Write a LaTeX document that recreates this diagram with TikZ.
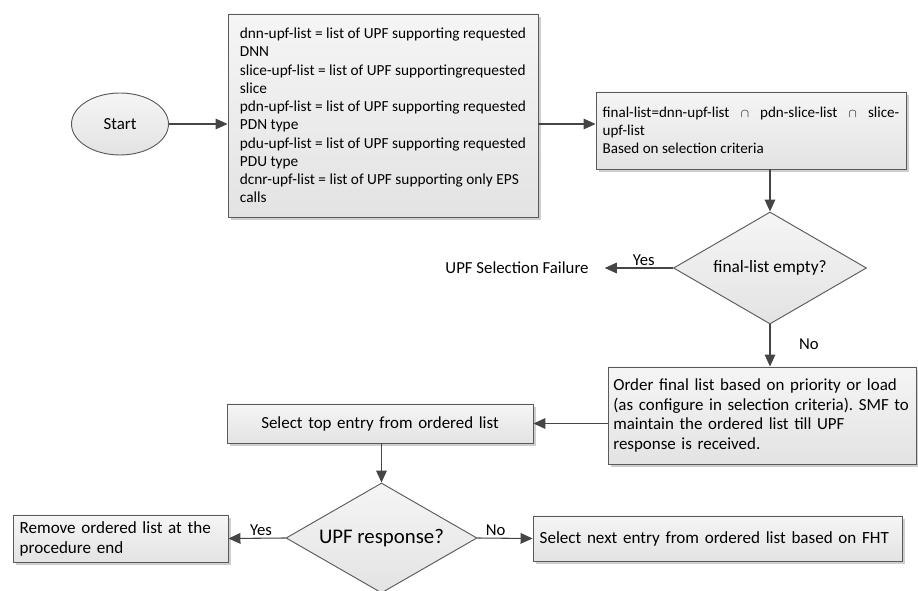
\documentclass[tikz,border=0pt]{standalone}
\usepackage{fontspec}
\setmainfont{Carlito}
\frenchspacing
\usetikzlibrary{positioning,calc,arrows.meta,shapes.geometric,shadows}
\definecolor{edgegray}{HTML}{5A5A5A}
\definecolor{linkgray}{HTML}{454545}
\definecolor{lightfill}{HTML}{F5F5F5}
\definecolor{darkfill}{HTML}{E3E3E3}
\tikzset{
  txt/.style={font=\fontsize{12.7}{14.8}\selectfont},
  smalltxt/.style={font=\fontsize{11.5}{13.7}\selectfont},
  shade/.style={top color=lightfill,bottom color=darkfill},
  shadow/.style={drop shadow={shadow xshift=2.2pt,shadow yshift=-2.2pt,fill=gray!70,opacity=0.55}},
  procbox/.style={rectangle,draw=edgegray,line width=0.7pt,shade,shadow,txt,
                  inner xsep=5pt,inner ysep=0pt,align=left},
  % start / end terminals are ellipses
  terminal/.style={ellipse,draw=edgegray,line width=0.7pt,shade,txt,inner sep=0,
                   minimum width=72.75pt,minimum height=46.5pt},
  decision/.style={diamond,draw=edgegray,line width=0.7pt,shade,inner sep=0,aspect=1.7,
                   font=\fontsize{13}{15}\selectfont},
  lab/.style={font=\fontsize{12.5}{14}\selectfont,inner sep=1.5pt},
  arrow/.style={-{Triangle[length=9pt,width=8pt]},draw=linkgray,line width=0.8pt},
}
\begin{document}
\begin{tikzpicture}[x=0.75pt,y=-0.75pt]
  \useasboundingbox (0,0) rectangle (918,591);
  % upper row: lists built from the request
  \node[terminal] (start) at (120,124) {Start};
  \node[procbox,smalltxt,inner xsep=0pt,minimum width=232.5pt,minimum height=152.25pt] (upflists) at (383,115.5)
    {dnn-upf-list = list of UPF supporting requested\\DNN\\
     slice-upf-list = list of UPF supportingrequested\\slice\\
     pdn-upf-list = list of UPF supporting requested\\PDN type\\
     pdu-upf-list = list of UPF supporting requested\\PDU type\\
     dcnr-upf-list = list of UPF supporting only EPS\\calls};
  \node[procbox,font=\fontsize{11.3}{13.5}\selectfont,text width=222.5pt,minimum height=57.75pt,align=justify] (finallist) at (751,130.5)
    {final-list=dnn-upf-list ~{\small$\cap$}~ pdn-slice-list ~{\small$\cap$}~ slice-\linebreak
     upf-list\\Based on selection criteria};
  \node[decision,minimum width=144.75pt,minimum height=84pt] (isempty) at (770,268) {final-list empty?};
  \node[txt,font=\fontsize{12.6}{14}\selectfont,inner xsep=12pt] (failure) at (517,268) {UPF Selection Failure};
  % ordering and selection
  \node[procbox,text width=223pt,inner xsep=4pt,minimum height=72.75pt] (ordering) at (762,415.5)
    {Order final list based on priority or load\\
     (as configure in selection criteria). SMF to\\
     maintain the ordered list till UPF\\
     response is received.};
  \node[procbox,text width=219.5pt,minimum height=29.25pt,align=center] (topentry) at (380,423.5)
    {Select top entry from ordered list};
  \node[decision,minimum width=143.25pt,minimum height=82.5pt,font=\fontsize{15.6}{18}\selectfont] (response) at (381.5,538) {UPF response?};
  \node[procbox,font=\fontsize{12.8}{15}\selectfont,text width=151.25pt,minimum height=35.25pt] (remove) at (120.5,538.5)
    {Remove ordered list at the\\procedure end};
  \node[procbox,font=\fontsize{12.8}{15}\selectfont,text width=266.75pt,minimum height=33.75pt] (nextentry) at (717.5,538.5)
    {Select next entry from ordered list based on FHT};
  % connectors
  \draw[arrow] (start.east) -- (start.east -| upflists.west);
  \draw[arrow] (start.east -| upflists.east) -- (start.east -| finallist.west);
  \draw[arrow] (isempty.north |- finallist.south) -- (isempty.north);
  \draw[arrow] (isempty.west) -- node[lab,above,pos=0.43] {Yes} (failure.east);
  \draw[arrow] (isempty.south) -- node[lab,right=20pt,pos=0.47] {No} (isempty.south |- ordering.north);
  \draw[arrow] (topentry.east -| ordering.west) -- (topentry.east);
  \draw[arrow] (response.north |- topentry.south) -- (response.north);
  \draw[arrow] (response.west) -- node[lab,above,pos=0.43] {Yes} (remove.east);
  \draw[arrow] (response.east) -- node[lab,above,pos=0.33] {No} (nextentry.west);
\end{tikzpicture}
\end{document}
